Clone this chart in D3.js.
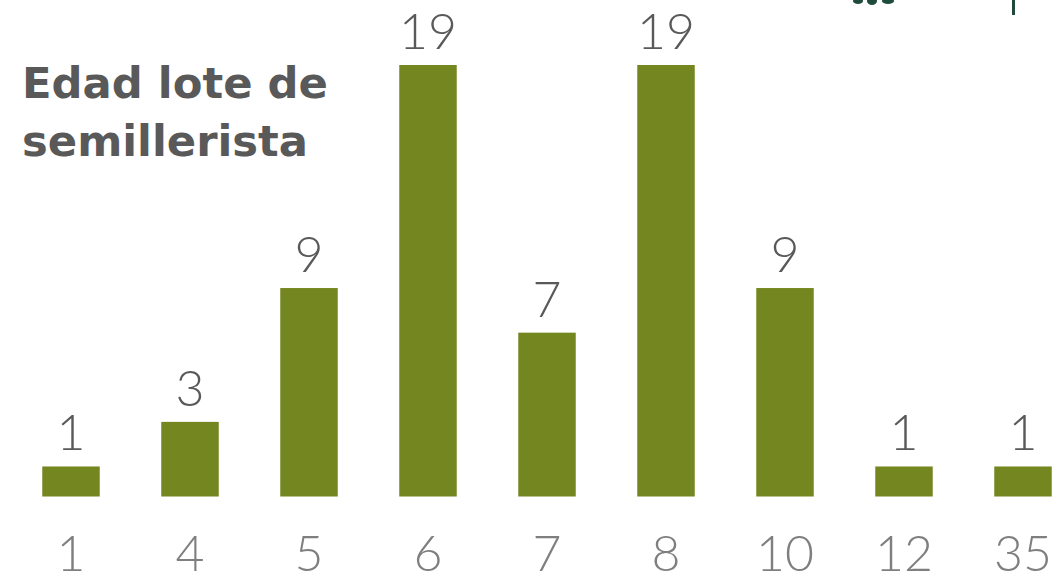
<!DOCTYPE html>
<html>
<head>
<meta charset="utf-8">
<script src="https://cdn.jsdelivr.net/npm/d3@7"></script>
<style>
  html, body { margin: 0; padding: 0; background: #ffffff; }
  svg { display: block; }
</style>
</head>
<body>
<svg id="chart" width="1056" height="583"></svg>
<script>
const categories = ["1", "4", "5", "6", "7", "8", "10", "12", "35"];
const values = [1, 3, 9, 19, 7, 19, 9, 1, 1];
const titleLines = ["Edad lote de", "semillerista"];

const svg = d3.select("#chart");

const x = d3.scaleBand()
  .domain(categories)
  .range([11.5, 1082.5])
  .paddingInner(0.517)
  .paddingOuter(0.2585);

const y = d3.scaleLinear()
  .domain([-0.346, 19])
  .range([496.5, 65]);

const barColor = "#74861f";

svg.append("g").selectAll("rect")
  .data(values)
  .join("rect")
  .attr("x", (d, i) => x(categories[i]))
  .attr("width", x.bandwidth())
  .attr("y", d => y(d))
  .attr("height", d => y(y.domain()[0]) - y(d))
  .attr("fill", barColor);

const numFont = "Lato, 'Noto Sans', sans-serif";

svg.append("g").selectAll("text")
  .data(values)
  .join("text")
  .attr("x", (d, i) => x(categories[i]) + x.bandwidth() / 2)
  .attr("y", d => y(d) - 16)
  .attr("text-anchor", "middle")
  .attr("font-family", numFont)
  .attr("font-weight", 300)
  .attr("font-size", 50)
  .attr("fill", "#595959")
  .text(d => d);

// category axis (no line, no ticks)
const xAxis = d3.axisBottom(x).tickSize(0).tickPadding(0);
const gx = svg.append("g").attr("transform", "translate(0,540)").call(xAxis);
gx.select(".domain").remove();
gx.selectAll("text")
  .attr("dy", null)
  .attr("y", 31)
  .attr("font-family", numFont)
  .attr("font-weight", 300)
  .attr("font-size", 50)
  .attr("fill", "#7f7f7f");

// title
const title = svg.append("g");
const t1 = title.append("text")
  .attr("x", 22).attr("y", 98)
  .attr("font-family", "'DejaVu Sans', sans-serif")
  .attr("font-weight", 700)
  .attr("font-size", 40)
  .attr("fill", "#595959")
  .text(titleLines[0]);
const w1 = t1.node().getComputedTextLength();
const fs = 40 * 306 / w1;
t1.attr("font-size", fs);
title.append("text")
  .attr("x", 22).attr("y", 156)
  .attr("font-family", "'DejaVu Sans', sans-serif")
  .attr("font-weight", 700)
  .attr("font-size", fs)
  .attr("fill", "#595959")
  .text(titleLines[1]);

// decorative fragments at top-right (cut-off logo and rule)
const deco = svg.append("g").attr("fill", "#1f4a3e");
deco.append("ellipse").attr("cx", 858).attr("cy", 1).attr("rx", 5).attr("ry", 3);
deco.append("ellipse").attr("cx", 872).attr("cy", 1).attr("rx", 5).attr("ry", 4);
deco.append("ellipse").attr("cx", 888).attr("cy", 1).attr("rx", 6).attr("ry", 3);
deco.append("rect").attr("x", 1012).attr("y", 0).attr("width", 3).attr("height", 15);
</script>
</body>
</html>
